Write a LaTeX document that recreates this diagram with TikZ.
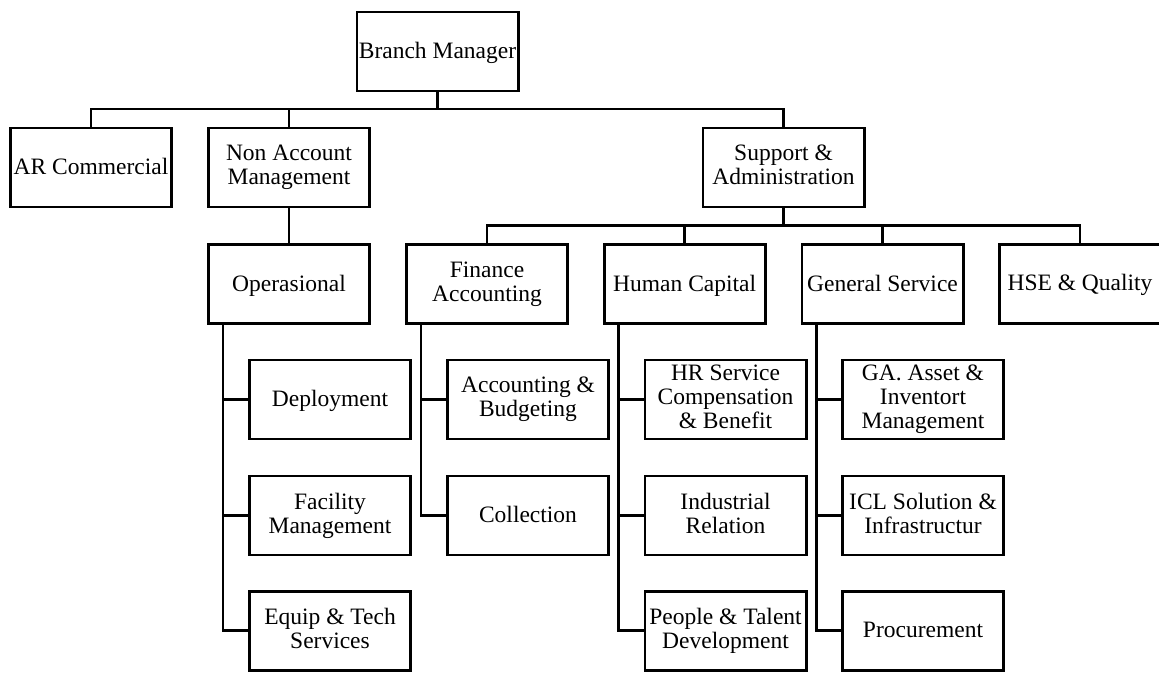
\documentclass[tikz,border=0pt]{standalone}
\usepackage{fontspec}
\setmainfont{Liberation Serif}
\newcommand\boxstrut{\rule[-5pt]{0pt}{24pt}}
\begin{document}
\begin{tikzpicture}[x=1pt,y=-1pt,
  orgbox/.style={draw, line width=2.8pt, minimum width=161.2pt, minimum height=79pt,
    inner sep=0pt, align=center, font=\fontsize{23.5}{24}\selectfont,
    execute at begin node=\boxstrut, execute at end node=\boxstrut},
  conn/.style={line width=2.7pt}]
\useasboundingbox (0,0) rectangle (1159,673);
% top
\node[orgbox] (bm) at (437.5,51.5) {Branch Manager};
\coordinate (l1) at (437.5,109);
% row 1
\node[orgbox] (ar) at (91,167.5) {AR Commercial};
\node[orgbox] (nam) at (289,167.5) {Non Account\\Management};
\node[orgbox] (sa) at (783.5,167.5) {Support \&\\Administration};
\coordinate (l2) at (783.5,225.7);
% row 2
\node[orgbox] (op) at (289,284) {Operasional};
\node[orgbox] (fa) at (487,284) {Finance\\Accounting};
\node[orgbox] (hc) at (684.7,284) {Human Capital};
\node[orgbox] (gs) at (882.5,284) {General Service};
\node[orgbox] (hse) at (1080,284) {HSE \& Quality};
% children of Operasional
\node[orgbox] (dep) at (330,399.5) {Deployment};
\node[orgbox] (fac) at (330,515.5) {Facility\\Management};
\node[orgbox] (eq) at (330,630.7) {Equip \& Tech\\Services};
% children of Finance Accounting
\node[orgbox] (acc) at (528,399.5) {Accounting \&\\Budgeting};
\node[orgbox] (col) at (528,515.5) {Collection};
% children of Human Capital
\node[orgbox] (hr) at (725.5,399.5) {HR Service\\Compensation\\\& Benefit};
\node[orgbox] (ir) at (725.5,515.5) {Industrial\\Relation};
\node[orgbox] (pt) at (725.5,630.7) {People \& Talent\\Development};
% children of General Service
\node[orgbox] (ga) at (923,399.5) {GA. Asset \&\\Inventort\\Management};
\node[orgbox] (icl) at (923,515.5) {ICL Solution \&\\Infrastructur};
\node[orgbox] (pro) at (923,630.7) {Procurement};
% spines
\coordinate (opsp) at ([xshift=-66pt]op.south);
\coordinate (fasp) at ([xshift=-66pt]fa.south);
\coordinate (hcsp) at ([xshift=-66pt]hc.south);
\coordinate (gssp) at ([xshift=-66pt]gs.south);
% connectors level 1
\draw[conn] (bm.south) -- (l1);
\draw[conn] (l1) -| (ar.north);
\draw[conn] (l1) -| (nam.north);
\draw[conn] (l1) -| (sa.north);
% Non Account -> Operasional
\draw[conn] (nam.south) -- (op.north);
% Support -> row 2
\draw[conn] (sa.south) -- (l2);
\draw[conn] (l2) -| (fa.north);
\draw[conn] (l2) -| (hc.north);
\draw[conn] (l2) -| (gs.north);
\draw[conn] (l2) -| (hse.north);
% children
\draw[conn] (opsp) |- (dep.west);
\draw[conn] (opsp) |- (fac.west);
\draw[conn] (opsp) |- (eq.west);
\draw[conn] (fasp) |- (acc.west);
\draw[conn] (fasp) |- (col.west);
\draw[conn] (hcsp) |- (hr.west);
\draw[conn] (hcsp) |- (ir.west);
\draw[conn] (hcsp) |- (pt.west);
\draw[conn] (gssp) |- (ga.west);
\draw[conn] (gssp) |- (icl.west);
\draw[conn] (gssp) |- (pro.west);
\end{tikzpicture}
\end{document}
